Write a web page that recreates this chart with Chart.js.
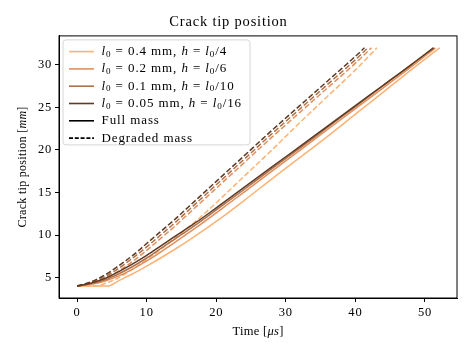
<!DOCTYPE html>
<html>
<head>
<meta charset="utf-8">
<script src="https://cdn.jsdelivr.net/npm/chart.js@4.4.0/dist/chart.umd.min.js"></script>
<style>
  html, body { margin: 0; padding: 0; background: #fff; }
  #wrap { width: 473px; height: 355px; }
</style>
</head>
<body>
<div id="wrap"><canvas id="crack-chart" width="473" height="355"></canvas></div>
<script>
const serif = '"Liberation Serif", "DejaVu Serif", serif';

// mesh variants, lightest first
const lengthLabels = ['0.4', '0.2', '0.1', '0.05'];
const hDivisors = ['4', '6', '10', '16'];
const lineColors = ['rgb(255,178,115)', 'rgb(226,142,90)', 'rgb(176,112,72)', 'rgb(92,58,36)'];

const xTicks = [0, 10, 20, 30, 40, 50];
const yTicks = [5, 10, 15, 20, 25, 30];

// full mass (solid)
const fullTime04 = [0, 2, 4, 4.4, 6, 8, 10, 12, 14, 16, 18, 20, 24, 28, 32, 36, 40, 44, 48, 52.1];
const fullTip04  = [4, 4, 4, 4, 4.65, 5.45, 6.35, 7.3, 8.3, 9.35, 10.45, 11.6, 14.05, 16.6, 19.1, 21.6, 24.2, 26.8, 29.4, 32];
const fullTime02 = [0, 2, 4, 6, 8, 10, 12, 14, 16, 18, 20, 24, 28, 32, 36, 40, 44, 48, 51.5];
const fullTip02  = [4, 4.2, 4.6, 5.2, 6.0, 6.95, 8.0, 9.1, 10.25, 11.4, 12.6, 15.05, 17.5, 19.95, 22.4, 24.85, 27.3, 29.75, 32];
const fullTime01 = [0, 2, 4, 6, 8, 10, 12, 14, 16, 18, 20, 24, 28, 32, 36, 40, 44, 48, 51.3];
const fullTip01  = [4, 4.3, 4.75, 5.45, 6.3, 7.3, 8.4, 9.5, 10.6, 11.75, 12.95, 15.35, 17.8, 20.2, 22.65, 25.1, 27.55, 30.0, 32];
const fullTime005 = [0, 2, 4, 6, 8, 10, 12, 14, 16, 18, 20, 24, 28, 32, 36, 40, 44, 48, 51.2];
const fullTip005  = [4, 4.35, 4.9, 5.7, 6.6, 7.6, 8.7, 9.8, 10.9, 12.0, 13.2, 15.6, 18.0, 20.4, 22.8, 25.2, 27.6, 30.0, 32];

// degraded mass (dashed)
const degTime04 = [0, 2, 3, 4, 6, 8, 10, 12, 14, 16, 18, 20, 24, 28, 32, 36, 40, 43.1];
const degTip04  = [4, 4, 4.05, 4.3, 5.0, 6.0, 7.1, 8.3, 9.6, 10.9, 12.3, 13.8, 16.9, 20.0, 23.2, 26.3, 29.4, 32];
const degTime02 = [0, 2, 4, 6, 8, 10, 12, 14, 16, 18, 20, 24, 28, 32, 36, 40, 42.3];
const degTip02  = [4, 4.3, 4.9, 5.8, 6.9, 8.2, 9.6, 11.0, 12.5, 14.0, 15.5, 18.5, 21.5, 24.4, 27.3, 30.2, 32];
const degTime01 = [0, 2, 4, 6, 8, 10, 12, 14, 16, 18, 20, 24, 28, 32, 36, 40, 41.8];
const degTip01  = [4, 4.4, 5.1, 6.1, 7.3, 8.6, 10.0, 11.4, 12.9, 14.4, 15.9, 18.9, 21.9, 24.8, 27.7, 30.6, 32];
const degTime005 = [0, 2, 4, 6, 8, 10, 12, 14, 16, 18, 20, 24, 28, 32, 36, 40, 41.3];
const degTip005  = [4, 4.5, 5.3, 6.4, 7.6, 9.0, 10.4, 11.8, 13.3, 14.8, 16.3, 19.3, 22.3, 25.2, 28.1, 31.0, 32];

const fullRuns = [[fullTime04, fullTip04], [fullTime02, fullTip02], [fullTime01, fullTip01], [fullTime005, fullTip005]];
const degRuns = [[degTime04, degTip04], [degTime02, degTip02], [degTime01, degTip01], [degTime005, degTip005]];

function toPoints(t, y) {
    return t.map((v, i) => ({x: v, y: y[i]}));
}

const datasets = [];
fullRuns.forEach((run, i) => {
    datasets.push({
        label: 'full ' + lengthLabels[i],
        data: toPoints(run[0], run[1]),
        borderColor: lineColors[i],
        borderWidth: 1.5,
        order: 10 - i
    });
});
degRuns.forEach((run, i) => {
    datasets.push({
        label: 'degraded ' + lengthLabels[i],
        data: toPoints(run[0], run[1]),
        borderColor: lineColors[i],
        borderWidth: 1.5,
        borderDash: [5.5, 2.4],
        order: 10 - i
    });
});

// draws text made of plain / italic / subscript parts, returns width
function drawRich(ctx, parts, x, y, size) {
    let cx = x;
    parts.forEach(([txt, st]) => {
        if (st === 's') {
            ctx.font = (size * 0.7) + 'px ' + serif;
            ctx.fillText(txt, cx, y + size * 0.22);
        } else {
            ctx.font = (st === 'i' ? 'italic ' : '') + size + 'px ' + serif;
            ctx.fillText(txt, cx, y);
        }
        cx += ctx.measureText(txt).width;
    });
    return cx - x;
}

function richWidth(ctx, parts, size) {
    let w = 0;
    parts.forEach(([txt, st]) => {
        ctx.font = (st === 'i' ? 'italic ' : '') + (st === 's' ? size * 0.7 : size) + 'px ' + serif;
        w += ctx.measureText(txt).width;
    });
    return w;
}

const extrasPlugin = {
    id: 'extras',
    beforeDraw(chart) {
        // CM-like wider spacing for title
        chart.ctx.letterSpacing = '0.8px';
    },
    beforeDatasetsDraw(chart) {
        chart.ctx.letterSpacing = '0px';
    },
    afterDraw(chart) {
        const ctx = chart.ctx;
        const a = chart.chartArea;
        ctx.save();

        // frame on all four sides
        ctx.strokeStyle = '#000';
        ctx.lineWidth = 1;
        ctx.strokeRect(a.left, a.top, a.right - a.left, a.bottom - a.top);

        ctx.fillStyle = '#000';
        ctx.textBaseline = 'middle';
        ctx.letterSpacing = '0.3px';

        // axis titles
        const xParts = [['Time [', 'r'], ['\u03bcs', 'i'], [']', 'r']];
        const xw = richWidth(ctx, xParts, 12.5);
        drawRich(ctx, xParts, (a.left + a.right) / 2 - xw / 2, 332, 12.5);

        const yParts = [['Crack tip position [', 'r'], ['mm', 'i'], [']', 'r']];
        const yw = richWidth(ctx, yParts, 12);
        ctx.save();
        ctx.translate(23, (a.top + a.bottom) / 2);
        ctx.rotate(-Math.PI / 2);
        drawRich(ctx, yParts, -yw / 2, 0, 12);
        ctx.restore();

        // legend box
        const bx = a.left + 4, by = a.top + 4, bw = 187, bh = 105;
        ctx.beginPath();
        ctx.roundRect(bx, by, bw, bh, 3);
        ctx.fillStyle = 'rgba(255,255,255,0.8)';
        ctx.fill();
        ctx.strokeStyle = '#d6d6d6';
        ctx.stroke();

        const rowH = 17.3;
        const entries = lengthLabels.map((len, i) => ({
            color: lineColors[i], dash: [],
            parts: [['l', 'i'], ['0', 's'], [' = ' + len + ' mm, ', 'r'], ['h', 'i'], [' = ', 'r'], ['l', 'i'], ['0', 's'], ['/' + hDivisors[i], 'r']]
        }));
        entries.push({color: '#000', dash: [], parts: [['Full mass', 'r']]});
        entries.push({color: '#000', dash: [4, 1.8], parts: [['Degraded mass', 'r']]});

        ctx.letterSpacing = '0.9px';
        entries.forEach((e, i) => {
            const ry = by + 11.7 + i * rowH;
            ctx.beginPath();
            ctx.setLineDash(e.dash);
            ctx.strokeStyle = e.color;
            ctx.lineWidth = 1.6;
            ctx.moveTo(bx + 6, ry);
            ctx.lineTo(bx + 31, ry);
            ctx.stroke();
            ctx.setLineDash([]);
            ctx.fillStyle = '#000';
            drawRich(ctx, e.parts, bx + 38.5, ry, 13);
        });

        ctx.restore();
    }
};

new Chart(document.querySelector('#crack-chart').getContext('2d'), {
    type: 'line',
    data: {datasets: datasets},
    options: {
        responsive: false,
        animation: false,
        devicePixelRatio: 1,
        elements: {point: {radius: 0}, line: {cubicInterpolationMode: 'monotone', fill: false}},
        layout: {padding: {top: 0, right: 16, left: 0, bottom: 0}},
        plugins: {
            legend: {display: false},
            tooltip: {enabled: false},
            title: {
                display: true,
                text: 'Crack tip position',
                color: '#000',
                font: {family: serif, size: 14.5, weight: 'normal'},
                padding: {top: 13.5, bottom: 5}
            }
        },
        scales: {
            x: {
                type: 'linear',
                min: -2.6,
                max: 54.6,
                afterBuildTicks: s => { s.ticks = xTicks.map(v => ({value: v})); },
                afterFit: s => { s.height = 57; },
                grid: {drawOnChartArea: false, drawTicks: true, tickLength: 4, tickColor: '#000', tickWidth: 1},
                border: {display: true, color: '#000', width: 1},
                ticks: {color: '#000', font: {family: serif, size: 12.5}, padding: 3, maxRotation: 0}
            },
            y: {
                type: 'linear',
                min: 2.6,
                max: 33.4,
                afterBuildTicks: s => { s.ticks = yTicks.map(v => ({value: v})); },
                afterFit: s => { s.width = 59; },
                grid: {drawOnChartArea: false, drawTicks: true, tickLength: 4, tickColor: '#000', tickWidth: 1},
                border: {display: true, color: '#000', width: 1},
                ticks: {color: '#000', font: {family: serif, size: 12.5}, padding: 3}
            }
        }
    },
    plugins: [extrasPlugin]
});
</script>
</body>
</html>
